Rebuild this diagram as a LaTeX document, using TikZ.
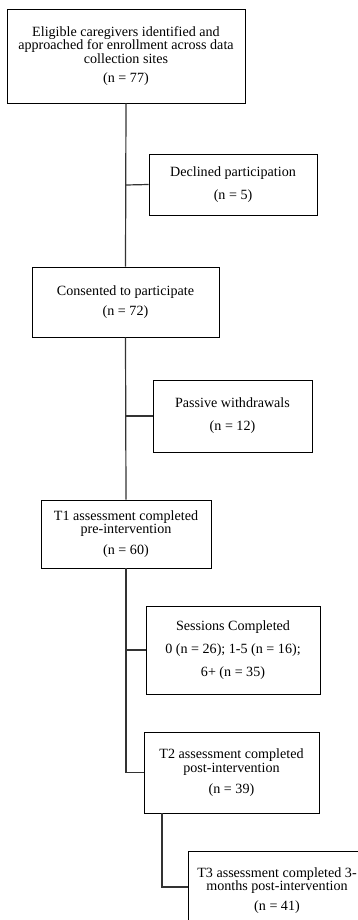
\documentclass[tikz,border=0pt]{standalone}
\usepackage{fontspec}
\setmainfont{Liberation Serif}
\begin{document}
\begin{tikzpicture}[x=1pt,y=-1pt,
  box/.style={draw=black, line width=0.9pt, rectangle, inner sep=0pt, align=center,
    font=\fontsize{14.1}{13.3}\selectfont},
  link/.style={draw=black!80, line width=1.2pt}]
\useasboundingbox (0,0) rectangle (358,920);
\begin{scope}
\clip (0,0) rectangle (358,920);
\node[box, minimum width=238pt, minimum height=94pt] (b1) at (126,56)
  {Eligible caregivers identified and\\approached for enrollment across data\\collection sites\\[5.7pt](n = 77)};
\node[box, minimum width=168pt, minimum height=61pt] (b2) at (233,184.5)
  {Declined participation\\[9.7pt](n = 5)};
\node[box, minimum width=187pt, minimum height=70pt] (b3) at (125.5,302)
  {Consented to participate\\[6.7pt](n = 72)};
\node[box, minimum width=159pt, minimum height=72pt] (b4) at (232.5,416)
  {Passive withdrawals\\[9.7pt](n = 12)};
\node[box, minimum width=170pt, minimum height=68pt] (b5) at (126,534)
  {T1 assessment completed\\pre-intervention\\[7.4pt](n = 60)};
\node[box, minimum width=174pt, minimum height=88pt] (b6) at (233,650)
  {Sessions Completed\\[9.7pt]0 (n = 26); 1-5 (n = 16);\\[9.7pt]6+ (n = 35)};
\node[box, minimum width=175pt, minimum height=81pt] (b7) at (231.5,772.5)
  {T2 assessment completed\\post-intervention\\[7.7pt](n = 39)};
\node[box, minimum width=178pt, minimum height=79pt] (b8) at (277,890.5)
  {T3 assessment completed 3-\\months post-intervention\\[6.7pt](n = 41)};
\coordinate (j1) at (126,185);
\coordinate (j2) at (126,416);
\coordinate (j3) at (126,650);
\coordinate (j4) at (126,772.5);
\coordinate (t7) at (162,813);
\coordinate (j5) at (162,887);
\draw[link] (b1.south) -- (b3.north);
\draw[link] (j1) -- (b2.west);
\draw[link] (b3.south) -- (b5.north);
\draw[link] (j2) -- (b4.west);
\draw[link] (b5.south) -- (j4) -- (b7.west);
\draw[link] (j3) -- (b6.west);
\draw[link] (t7) -- (j5) -- (j5 -| b8.west);
\end{scope}
\end{tikzpicture}
\end{document}
